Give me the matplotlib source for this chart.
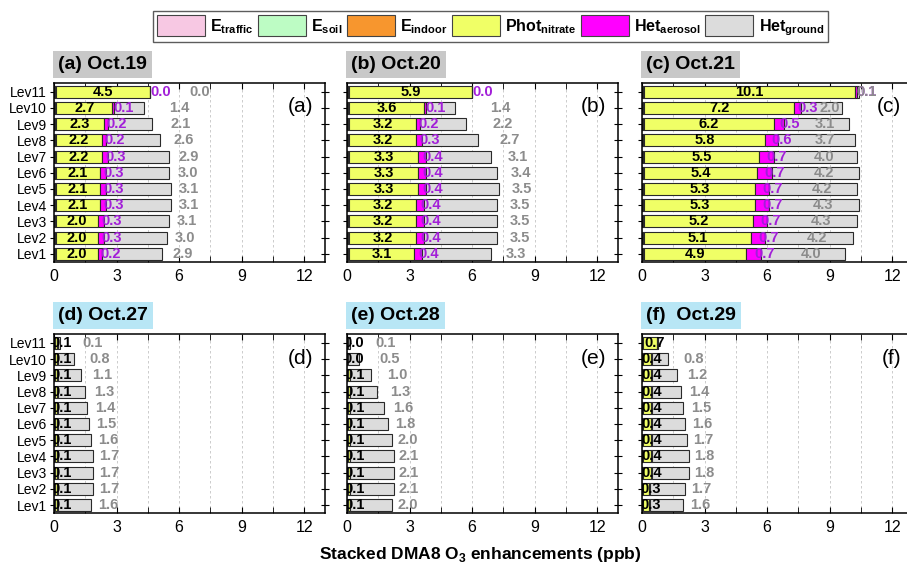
import numpy as np
import matplotlib
matplotlib.use("Agg")
import matplotlib.pyplot as plt
from matplotlib.patches import Patch

plt.rcParams['font.family'] = ['Liberation Sans', 'DejaVu Sans']
plt.rcParams['mathtext.fontset'] = 'custom'
plt.rcParams['mathtext.rm'] = 'Liberation Sans'
plt.rcParams['mathtext.bf'] = 'Liberation Sans:bold'

levels = ['Lev%d' % i for i in range(1, 12)]
panels = ['a', 'b', 'c', 'd', 'e', 'f']
titles = ['(a) Oct.19', '(b) Oct.20', '(c) Oct.21', '(d) Oct.27', '(e) Oct.28', '(f)  Oct.29']

# emission terms are tiny, one value per panel
e_traffic = [0.03, 0.03, 0.03, 0.01, 0.01, 0.01]
e_soil = [0.04, 0.04, 0.05, 0.02, 0.02, 0.01]
e_indoor = [0.03, 0.03, 0.03, 0.02, 0.02, 0.01]

# Lev1 ... Lev11
phot = {
    'a': [2.0, 2.0, 2.0, 2.1, 2.1, 2.1, 2.2, 2.2, 2.3, 2.7, 4.5],
    'b': [3.1, 3.2, 3.2, 3.2, 3.3, 3.3, 3.3, 3.2, 3.2, 3.6, 5.9],
    'c': [4.9, 5.1, 5.2, 5.3, 5.3, 5.4, 5.5, 5.8, 6.2, 7.2, 10.1],
    'd': [0.1, 0.1, 0.1, 0.1, 0.1, 0.1, 0.1, 0.1, 0.1, 0.1, 0.1],
    'e': [0.1, 0.1, 0.1, 0.1, 0.1, 0.1, 0.1, 0.1, 0.1, 0.0, 0.0],
    'f': [0.3, 0.3, 0.4, 0.4, 0.4, 0.4, 0.4, 0.4, 0.4, 0.4, 0.7],
}
het_aerosol = {
    'a': [0.2, 0.3, 0.3, 0.3, 0.3, 0.3, 0.3, 0.2, 0.2, 0.1, 0.0],
    'b': [0.4, 0.4, 0.4, 0.4, 0.4, 0.4, 0.4, 0.3, 0.2, 0.1, 0.0],
    'c': [0.7, 0.7, 0.7, 0.7, 0.7, 0.7, 0.7, 0.6, 0.5, 0.3, 0.1],
    'd': [0.03] * 11,
    'e': [0.01] * 11,
    'f': [0.04] * 11,
}
het_ground = {
    'a': [2.9, 3.0, 3.1, 3.1, 3.1, 3.0, 2.9, 2.6, 2.1, 1.4, 0.0],
    'b': [3.3, 3.5, 3.5, 3.5, 3.5, 3.4, 3.1, 2.7, 2.2, 1.4, 0.0],
    'c': [4.0, 4.2, 4.3, 4.3, 4.2, 4.2, 4.0, 3.7, 3.1, 2.0, 0.1],
    'd': [1.6, 1.7, 1.7, 1.7, 1.6, 1.5, 1.4, 1.3, 1.1, 0.8, 0.1],
    'e': [2.0, 2.1, 2.1, 2.1, 2.0, 1.8, 1.6, 1.3, 1.0, 0.5, 0.1],
    'f': [1.6, 1.7, 1.8, 1.8, 1.7, 1.6, 1.5, 1.4, 1.2, 0.8, 0.0],
}

colors = {
    'traffic': '#f7c8e3', 'soil': '#bdfcc4', 'indoor': '#f7962e',
    'phot': '#f0ff66', 'aero': '#ff00ff', 'ground': '#dcdcdc',
}
# horizontal shift of the grey value labels (x units) in each panel
ground_shift = {'a': 2.4, 'b': 2.85, 'c': 0.4, 'd': 1.6, 'e': 1.75, 'f': 1.6}
hide_ground = {('b', 10), ('f', 10)}

fig = plt.figure(figsize=(9.07, 5.67), dpi=100)

lefts = [0.0595, 0.3826, 0.7078]
bottoms = [0.538, 0.095]
w, h = 0.299, 0.316

y = np.arange(1, 12)
bh = 0.74
for k, p in enumerate(panels):
    row, col = divmod(k, 3)
    ax = fig.add_axes([lefts[col], bottoms[row], w, h])
    ph = np.array(phot[p])
    ae = np.array(het_aerosol[p])
    gr = np.array(het_ground[p])
    parts = [
        (np.full(11, e_traffic[k]), colors['traffic']),
        (np.full(11, e_soil[k]), colors['soil']),
        (np.full(11, e_indoor[k]), colors['indoor']),
        (ph, colors['phot']),
        (ae, colors['aero']),
        (gr, colors['ground']),
    ]
    left = np.zeros(11)
    starts = []
    for vals, c in parts:
        ax.barh(y, vals, left=left, height=bh, color=c, edgecolor='#2a2a2a',
                linewidth=0.8, zorder=2)
        starts.append(left.copy())
        left = left + vals

    for i in range(11):
        xc = starts[3][i] + ph[i] / 2 + (0.25 if row == 1 else 0.0)
        ax.text(xc, y[i], '%.1f' % ph[i], ha='center', va='center',
                fontsize=10.5, fontweight='bold', color='black', zorder=5, clip_on=True)
        if row == 0:
            xa = starts[4][i] + ae[i] / 2 + 0.5
            ax.text(xa, y[i], '%.1f' % ae[i], ha='center', va='center',
                    fontsize=10.5, fontweight='bold', color='#a21fd8', zorder=5, clip_on=True)
        if (p, i) not in hide_ground:
            xg = starts[5][i] + gr[i] / 2 + ground_shift[p]
            ax.text(xg, y[i], '%.1f' % gr[i], ha='center', va='center',
                    fontsize=10.5, fontweight='bold', color='#8c8c8c', zorder=5, clip_on=True)

    ax.set_xlim(0, 13)
    ax.set_ylim(0.5, 11.55)
    ax.set_xticks([0, 3, 6, 9, 12])
    ax.set_xticks([1.5, 4.5, 7.5, 10.5], minor=True)
    ax.set_yticks(y)
    if col == 0:
        ax.set_yticklabels(levels, fontsize=10)
    else:
        ax.set_yticklabels([])
    ax.tick_params(axis='x', which='both', direction='in', top=True, length=4,
                   labelsize=11.5, pad=5)
    ax.tick_params(axis='y', direction='inout', right=True, length=6, pad=2)
    ax.grid(axis='x', which='both', linestyle=(0, (3, 3)), color='#c4c4c4', linewidth=0.6)
    ax.set_axisbelow(True)
    for s in ax.spines.values():
        s.set_linewidth(1.1)

    ax.text(0.955, 0.865, '(%s)' % p, transform=ax.transAxes, ha='right', va='center',
            fontsize=15)
    box_fc = '#c8c8c8' if row == 0 else '#b8e6f5'
    ax.annotate(titles[k], xy=(0, 1), xycoords='axes fraction', xytext=(3, 7),
                textcoords='offset points', ha='left', va='bottom', fontsize=14,
                fontweight='bold',
                bbox=dict(boxstyle='square,pad=0.26', fc=box_fc, ec='none'))

handles = [Patch(fc=colors[c], ec='#444444', lw=0.8) for c in
           ['traffic', 'soil', 'indoor', 'phot', 'aero', 'ground']]
labels = [r'$\mathbf{E_{traffic}}$', r'$\mathbf{E_{soil}}$', r'$\mathbf{E_{indoor}}$',
          r'$\mathbf{Phot_{nitrate}}$', r'$\mathbf{Het_{aerosol}}$', r'$\mathbf{Het_{ground}}$']
leg = fig.legend(handles, labels, loc='upper center', bbox_to_anchor=(0.541, 0.98),
                 ncol=6, fontsize=11.5, frameon=True, fancybox=False, edgecolor='#333333',
                 handlelength=3.0, handleheight=1.6, handletextpad=0.35,
                 columnspacing=0.25, borderpad=0.25, borderaxespad=0)
leg.get_frame().set_linewidth(1.0)

fig.text(0.53, 0.022, r'Stacked DMA8 O$_\mathbf{3}$ enhancements (ppb)', ha='center',
         va='center', fontsize=12.5, fontweight='bold')

fig.savefig('out.png', dpi=100)
